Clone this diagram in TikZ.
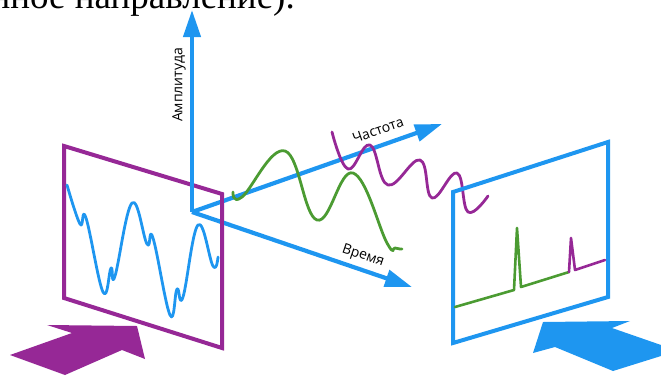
\documentclass[tikz,border=0pt]{standalone}
\usepackage{fontspec}
\setmainfont{Open Sans}
\newfontfamily\serifru{Liberation Serif}
\usetikzlibrary{arrows.meta}
\definecolor{cpurple}{HTML}{962896}
\definecolor{cblue}{HTML}{1E96F0}
\definecolor{cgreen}{HTML}{4B9B32}
\tikzset{
  axis/.style={cblue, line width=4.2pt, -{Triangle[length=27pt,width=17pt]}},
  frameline/.style={line width=4pt, line join=miter},
  wave/.style={line width=2.8pt, line cap=round, line join=round},
  axlabel/.style={font=\fontsize{14}{14}\selectfont, inner sep=0pt},
}
\begin{document}
\begin{tikzpicture}[x=1pt,y=-1pt]
\useasboundingbox (0,0) rectangle (661,378);
\begin{scope}
\clip (0,0) rectangle (661,378);
\node[anchor=base east, inner sep=0pt, font=\serifru\fontsize{37}{37}\selectfont] (toptext) at (295,8.5) {нное направление).};
\end{scope}
% coordinates
\coordinate (O) at (192,212);
\coordinate (ampTip) at (192,10);
\coordinate (freqTip) at (442,124);
\coordinate (timeTip) at (412,287);
% left frame
\coordinate (L1) at (64,146);
\coordinate (L2) at (222,194);
\coordinate (L3) at (222,348);
\coordinate (L4) at (64,298);
\draw[frameline, cpurple] (L1) -- (L2) -- (L3) -- (L4) -- cycle;
% blue signal
\draw[wave, cblue] plot[smooth, tension=0.7] coordinates {(67,185) (80,224) (86,218) (103,292) (111,268) (115,276) (132,203) (147,244) (153,238) (170,315) (177,289) (183,297) (198,225) (213,266) (218,257)};
% axes
\draw[axis] (O) -- (ampTip);
\draw[axis] (O) -- (freqTip);
\draw[axis] (O) -- (timeTip);
\draw[frameline, cpurple] (L2) -- (L3);
% labels
\node[axlabel, rotate=90] (amp) at (179,85) {Амплитуда};
\node[axlabel, rotate=19.4] (freq) at (378,130) {Частота};
\node[axlabel, rotate=-18.8] (time) at (363,256) {Время};
% green wave
\draw[wave, cgreen] plot[smooth, tension=0.7] coordinates {(233,192) (242,197) (285,151) (317,220) (353,173) (387,243) (395,248) (402,249)};
% purple wave
\draw[wave, cpurple] plot[smooth, tension=0.7] coordinates {(332,132) (348,169) (370,145) (388,185) (420,160) (432,198) (457,173) (468,212) (488,196)};
% right frame
\coordinate (R1) at (453,192);
\coordinate (R2) at (608,142);
\coordinate (R3) at (608,297);
\coordinate (R4) at (453,343);
\draw[frameline, cblue] (R1) -- (R2) -- (R3) -- (R4) -- cycle;
% spectrum
\draw[wave, cgreen, line width=2.6pt] (455,307) -- (514,290) -- (517,228) -- (521,287) -- (569,272);
\draw[wave, cpurple, line width=2.6pt] (569,272) -- (571,238) -- (575,270) -- (605,260);
% big arrows
\fill[cpurple] (10,355) -- (72,333) -- (47,325) -- (137,326) -- (145,359) -- (122,350) -- (65,375) -- cycle;
\fill[cblue] (543,322) -- (630,321) -- (612,328) -- (661,345) -- (661,356) -- (613,371) -- (555,347) -- (533,353) -- cycle;
\end{tikzpicture}
\end{document}
